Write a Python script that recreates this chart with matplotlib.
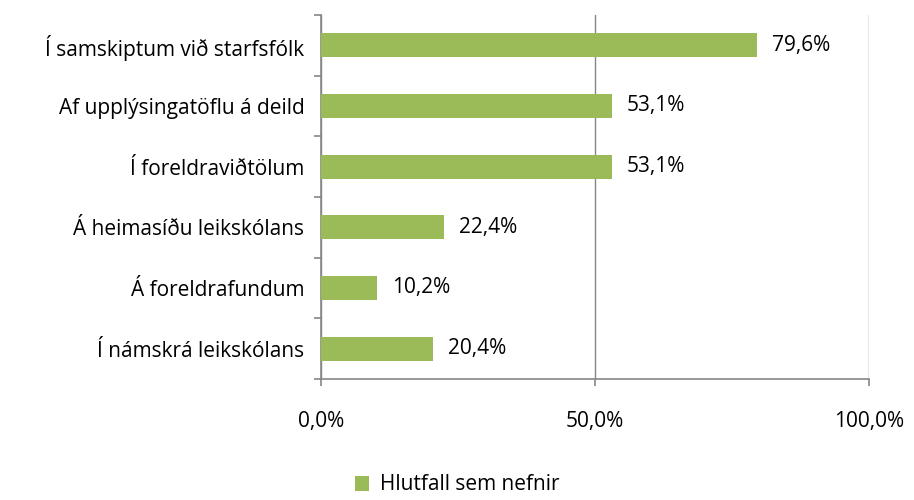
import matplotlib
matplotlib.use("Agg")
import matplotlib.pyplot as plt
from matplotlib.ticker import FixedLocator

categories = ["Í samskiptum við starfsfólk", "Af upplýsingatöflu á deild",
              "Í foreldraviðtölum", "Á heimasíðu leikskólans",
              "Á foreldrafundum", "Í námskrá leikskólans"]
values = [79.6, 53.1, 53.1, 22.4, 10.2, 20.4]
series_name = "Hlutfall sem nefnir"
xticks = [0, 50, 100]
xticklabels = ["0,0%", "50,0%", "100,0%"]

plt.rcParams['font.family'] = ['Open Sans', 'DejaVu Sans']
FS = 15
fig = plt.figure(figsize=(9.14, 5.0), dpi=100)
ax = fig.add_axes([321/914, 1-379/500, (869-321)/914, (379-15)/500])

n = len(categories)
ypos = [n - 1 - i for i in range(n)]
color = "#9BBB59"
ax.barh(ypos, values, height=0.4, color=color, zorder=3, label=series_name)
for y, v in zip(ypos, values):
    ax.text(v + 2.7, y, f"{v:.1f}%".replace('.', ','), va='center', ha='left',
            fontsize=FS, color='black')

ax.set_xlim(0, 100)
ax.set_ylim(-0.5, n - 0.5)
ax.set_xticks(xticks)
ax.set_xticklabels(xticklabels, fontsize=FS)
ax.set_yticks(ypos)
ax.set_yticklabels(categories, fontsize=FS)
ax.yaxis.set_minor_locator(FixedLocator([i - 0.5 for i in range(n + 1)]))
ax.tick_params(axis='y', which='major', length=0, pad=12)
ax.tick_params(axis='y', which='minor', length=5, color='#868686', width=1.2)
ax.tick_params(axis='x', which='major', length=5, color='#868686', width=1.2, pad=18)
ax.grid(axis='x', color='#868686', linewidth=1.0, zorder=0)
for s in ['top', 'right']:
    ax.spines[s].set_visible(False)
for s in ['left', 'bottom']:
    ax.spines[s].set_color('#868686')
    ax.spines[s].set_linewidth(1.2)

leg = fig.legend(loc='center', bbox_to_anchor=(0.5, 1-485/500), frameon=False,
                 fontsize=FS, handlelength=0.7, handleheight=0.7, handletextpad=0.5)
fig.savefig("out.png", dpi=100)
